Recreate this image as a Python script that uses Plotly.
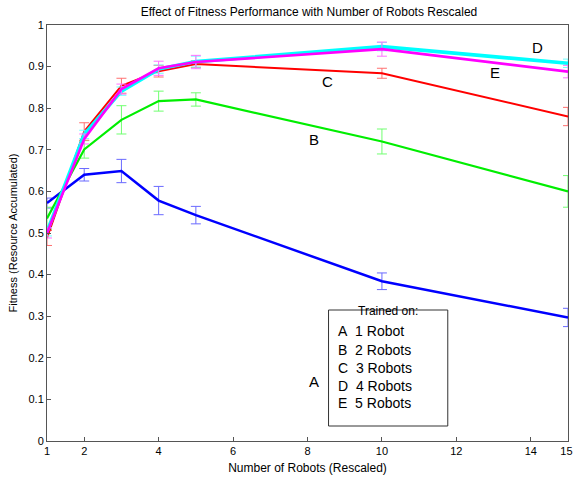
import plotly.graph_objects as go

robots = [1, 2, 3, 4, 5, 10, 15]

fit_a = [0.572, 0.640, 0.649, 0.578, 0.543, 0.384, 0.297]
err_a = [0.012, 0.015, 0.028, 0.034, 0.021, 0.020, 0.022]
fit_b = [0.535, 0.701, 0.772, 0.817, 0.821, 0.720, 0.600]
err_b = [0.027, 0.021, 0.034, 0.024, 0.016, 0.030, 0.038]
fit_c = [0.488, 0.744, 0.854, 0.889, 0.906, 0.884, 0.780]
err_c = [0.018, 0.021, 0.018, 0.014, 0.008, 0.012, 0.022]
fit_d = [0.503, 0.737, 0.841, 0.894, 0.912, 0.948, 0.908]
err_d = [0.010, 0.010, 0.010, 0.010, 0.013, 0.010, 0.010]
fit_e = [0.500, 0.726, 0.846, 0.896, 0.911, 0.942, 0.888]
err_e = [0.012, 0.012, 0.012, 0.017, 0.016, 0.017, 0.015]

series_letters = ["A", "B", "C", "D", "E"]
series_names = ["1 Robot", "2 Robots", "3 Robots", "4 Robots", "5 Robots"]
label_x = [8.17, 8.18, 8.55, 14.19, 13.05]
label_y = [0.143, 0.725, 0.864, 0.946, 0.886]

x_ticks = [1, 2, 4, 6, 8, 10, 12, 14, 15]
x_tick_text = ["1", "2", "4", "6", "8", "10", "12", "14", "15&nbsp;"]
y_ticks = [0, 0.1, 0.2, 0.3, 0.4, 0.5, 0.6, 0.7, 0.8, 0.9, 1]
y_tick_text = ["0", "0.1", "0.2", "0.3", "0.4", "0.5", "0.6", "0.7", "0.8", "0.9", "1"]

line_colors = ["#0000ff", "#00ee00", "#ff0000", "#00ffff", "#ff00ff"]
err_colors = ["#6a6aff", "#70ff70", "#ff7070", "#70ffff", "#ff70ff"]
widths = [2.5, 2.2, 2.0, 3.6, 2.6]

FONT = "Liberation Sans, Arial, Helvetica, sans-serif"

fig = go.Figure()
all_fit = [fit_a, fit_b, fit_c, fit_d, fit_e]
all_err = [err_a, err_b, err_c, err_d, err_e]
for i in range(5):
    fig.add_trace(go.Scatter(
        x=robots, y=all_fit[i], mode="lines",
        name=series_names[i],
        line=dict(color=line_colors[i], width=widths[i]),
        error_y=dict(type="data", array=all_err[i], visible=True,
                     color=err_colors[i], thickness=1, width=5),
        showlegend=False,
    ))

for i in range(5):
    fig.add_annotation(x=label_x[i], y=label_y[i], text=series_letters[i],
                       showarrow=False, font=dict(size=15, color="black", family=FONT))

# legend box (paper coords relative to plot area 47.3..576 x 25..441 in px)
PL, PT, PW, PH = 47.3, 25.0, 528.7, 416.0
fig.add_shape(type="rect", xref="paper", yref="paper",
              x0=(333 - PL) / PW, x1=(454 - PL) / PW,
              y0=(441 - 426) / PH, y1=(441 - 310) / PH,
              line=dict(color="#333333", width=1), fillcolor="white", layer="above")
fig.add_annotation(xref="paper", yref="paper", x=(393 - PL) / PW, y=(441 - 320) / PH,
                   text="Trained on:", showarrow=False,
                   font=dict(size=12, color="black", family=FONT))
legend_rows_y = [341, 360, 378, 396, 413]
for i in range(5):
    fig.add_annotation(xref="paper", yref="paper", x=(341 - PL) / PW,
                       y=(441 - legend_rows_y[i]) / PH, xanchor="left",
                       text=series_letters[i] + "&nbsp;&nbsp;" + series_names[i],
                       showarrow=False, font=dict(size=14, color="black", family=FONT))

axis_common = dict(showline=True, linecolor="#555555", linewidth=1, mirror=True,
                   ticks="inside", ticklen=4, tickcolor="#555555", showgrid=False,
                   zeroline=False, tickfont=dict(size=11, color="black", family=FONT))

fig.update_layout(
    width=582, height=486,
    margin=dict(l=PL, r=6, t=PT, b=45),
    paper_bgcolor="white", plot_bgcolor="white",
    title=dict(text="Effect of Fitness Performance with Number of Robots Rescaled",
               x=309 / 582, xanchor="center", y=1 - 12 / 486, yanchor="middle",
               font=dict(size=12, color="black", family=FONT)),
    xaxis=dict(range=[1, 15], tickvals=x_ticks, ticktext=x_tick_text,
               ticklabeloverflow="allow",
               title=dict(text="Number of Robots (Rescaled)", standoff=7,
                          font=dict(size=12, color="black", family=FONT)),
               **axis_common),
    yaxis=dict(range=[0, 1], tickvals=y_ticks, ticktext=y_tick_text,
               title=dict(text="Fitness (Resource Accumulated)", standoff=8,
                          font=dict(size=11, color="black", family=FONT)),
               **axis_common),
)

# remove the browser's default 8px body margin so the figure sits at the page origin
fig.write_html("out.html", config={"displayModeBar": False},
               post_script="document.body.style.margin='0';")
